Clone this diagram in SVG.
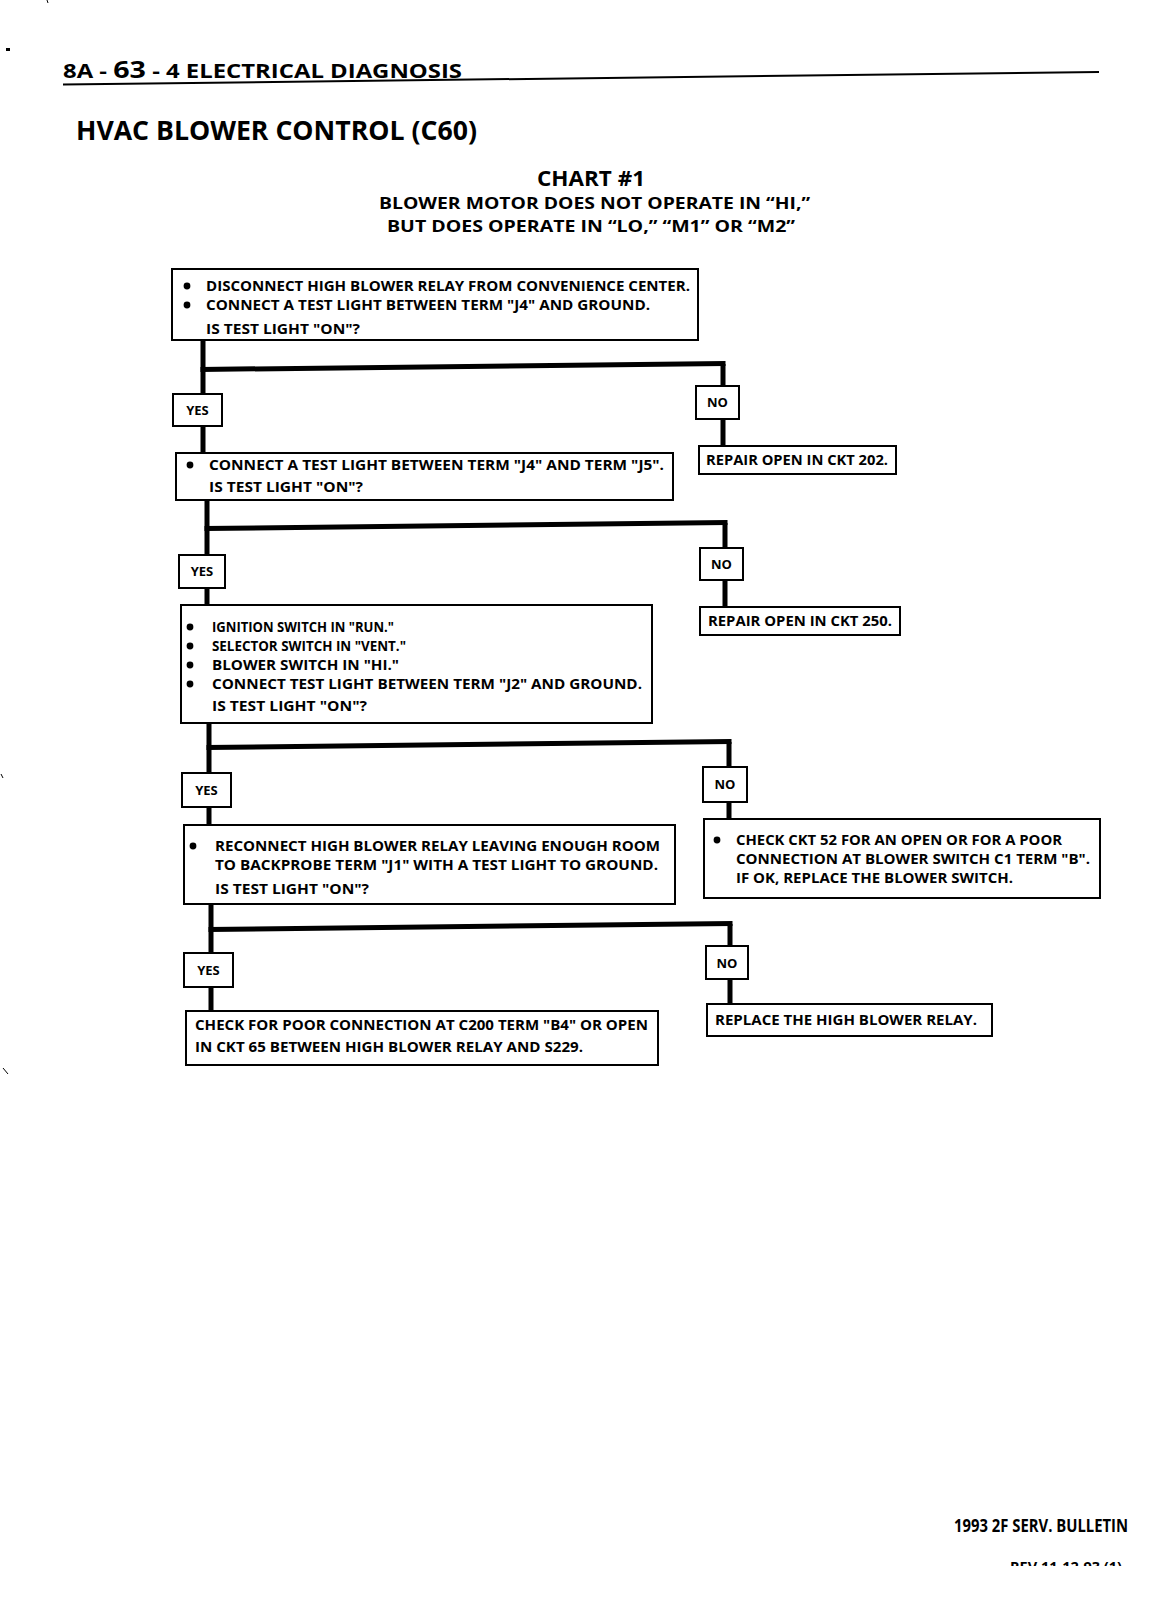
<svg xmlns="http://www.w3.org/2000/svg" width="1168" height="1600" viewBox="0 0 1168 1600">
<defs>
<style>
.bg{fill:#fff}
.box{fill:#fff;stroke:#000;stroke-width:2}
.wire{fill:none;stroke:#000;stroke-width:5;stroke-linejoin:miter;stroke-linecap:butt}
.t{font-family:"Open Sans","Liberation Sans",sans-serif;font-weight:700;font-size:14px;fill:#000}
.lbl{font-family:"Open Sans","Liberation Sans",sans-serif;font-weight:700;font-size:13px;fill:#000;text-anchor:middle}
.h{font-family:"Open Sans","Liberation Sans",sans-serif;font-weight:700;fill:#000}
.dot{fill:#000}
</style>
<clipPath id="cut"><rect x="0" y="0" width="1168" height="1566"/></clipPath>
</defs>
<rect class="bg" x="0" y="0" width="1168" height="1600"/>

<g id="header">
<text class="h" x="63" y="78" font-size="20" textLength="399" lengthAdjust="spacingAndGlyphs">8A - <tspan font-size="24">63</tspan> - 4  ELECTRICAL DIAGNOSIS</text>
<line x1="63" y1="84.5" x2="1099" y2="72" stroke="#000" stroke-width="2"/>
<text class="h" x="76" y="140" font-size="27" textLength="401" lengthAdjust="spacingAndGlyphs">HVAC BLOWER CONTROL (C60)</text>
<text class="h" x="537" y="186" font-size="22" textLength="108" lengthAdjust="spacingAndGlyphs">CHART #1</text>
<text class="h" x="379" y="209" font-size="16" textLength="431" lengthAdjust="spacingAndGlyphs">BLOWER MOTOR DOES NOT OPERATE IN “HI,”</text>
<text class="h" x="387" y="232" font-size="16" textLength="408" lengthAdjust="spacingAndGlyphs">BUT DOES OPERATE IN “LO,” “M1” OR “M2”</text>
</g>

<g id="connectors">
<path class="wire" d="M203 340 V394 M203 426 V453 M723 386 V364"/>
<path class="wire" d="M200.5 369.5 L725.5 363.5"/>
<path class="wire" d="M723 419 V446"/>
<path class="wire" d="M207 500 V555 M207 588 V605 M725 548 V523 M725 580 V607"/>
<path class="wire" d="M204.5 528.5 L727.5 522.5"/>
<path class="wire" d="M209 723 V773 M209 807 V825 M729 767 V742 M729 802 V819"/>
<path class="wire" d="M206.5 747.5 L731.5 741.5"/>
<path class="wire" d="M211 904 V953 M211 987 V1011 M730 946 V924 M730 979 V1004"/>
<path class="wire" d="M208.5 929.5 L732.5 923.5"/>
</g>

<g id="step1">
<rect class="box" x="172" y="269" width="526" height="71"/>
<circle class="dot" cx="187" cy="286" r="3.4"/>
<circle class="dot" cx="187" cy="305" r="3.4"/>
<text class="t" x="206" y="291" textLength="484" lengthAdjust="spacingAndGlyphs">DISCONNECT HIGH BLOWER RELAY FROM CONVENIENCE CENTER.</text>
<text class="t" x="206" y="310" textLength="444" lengthAdjust="spacingAndGlyphs">CONNECT A TEST LIGHT BETWEEN TERM "J4" AND GROUND.</text>
<text class="t" x="206" y="334" textLength="154" lengthAdjust="spacingAndGlyphs">IS TEST LIGHT "ON"?</text>
</g>

<g id="yes1"><rect class="box" x="173" y="394" width="49" height="32"/><text class="lbl" x="197.5" y="415">YES</text></g>
<g id="no1"><rect class="box" x="696" y="386" width="43" height="33"/><text class="lbl" x="717.5" y="407">NO</text></g>
<g id="repair202"><rect class="box" x="699" y="446" width="197" height="28"/><text class="t" x="706" y="465" textLength="182" lengthAdjust="spacingAndGlyphs">REPAIR OPEN IN CKT 202.</text></g>

<g id="step2">
<rect class="box" x="176" y="453" width="497" height="47"/>
<circle class="dot" cx="190" cy="465" r="3.4"/>
<text class="t" x="209" y="470" textLength="455" lengthAdjust="spacingAndGlyphs">CONNECT A TEST LIGHT BETWEEN TERM "J4" AND TERM "J5".</text>
<text class="t" x="209" y="492" textLength="154" lengthAdjust="spacingAndGlyphs">IS TEST LIGHT "ON"?</text>
</g>

<g id="yes2"><rect class="box" x="179" y="555" width="46" height="33"/><text class="lbl" x="202" y="576">YES</text></g>
<g id="no2"><rect class="box" x="700" y="548" width="43" height="32"/><text class="lbl" x="721.5" y="569">NO</text></g>
<g id="repair250"><rect class="box" x="700" y="607" width="200" height="28"/><text class="t" x="708" y="626" textLength="184" lengthAdjust="spacingAndGlyphs">REPAIR OPEN IN CKT 250.</text></g>

<g id="step3">
<rect class="box" x="181" y="605" width="471" height="118"/>
<circle class="dot" cx="190" cy="627" r="3.4"/>
<circle class="dot" cx="190" cy="646" r="3.4"/>
<circle class="dot" cx="190" cy="665" r="3.4"/>
<circle class="dot" cx="190" cy="684" r="3.4"/>
<text class="t" x="212" y="632" textLength="182" lengthAdjust="spacingAndGlyphs">IGNITION SWITCH IN "RUN."</text>
<text class="t" x="212" y="651" textLength="194" lengthAdjust="spacingAndGlyphs">SELECTOR SWITCH IN "VENT."</text>
<text class="t" x="212" y="670" textLength="187" lengthAdjust="spacingAndGlyphs">BLOWER SWITCH IN "HI."</text>
<text class="t" x="212" y="689" textLength="430" lengthAdjust="spacingAndGlyphs">CONNECT TEST LIGHT BETWEEN TERM "J2" AND GROUND.</text>
<text class="t" x="212" y="711" textLength="155" lengthAdjust="spacingAndGlyphs">IS TEST LIGHT "ON"?</text>
</g>

<g id="yes3"><rect class="box" x="182" y="773" width="49" height="34"/><text class="lbl" x="206.5" y="795">YES</text></g>
<g id="no3"><rect class="box" x="703" y="767" width="44" height="35"/><text class="lbl" x="725" y="789">NO</text></g>
<g id="checkckt52">
<rect class="box" x="704" y="819" width="396" height="79"/>
<circle class="dot" cx="717" cy="840" r="3.4"/>
<text class="t" x="736" y="845" textLength="326" lengthAdjust="spacingAndGlyphs">CHECK CKT 52 FOR AN OPEN OR FOR A POOR</text>
<text class="t" x="736" y="864" textLength="354" lengthAdjust="spacingAndGlyphs">CONNECTION AT BLOWER SWITCH C1 TERM "B".</text>
<text class="t" x="736" y="883" textLength="277" lengthAdjust="spacingAndGlyphs">IF OK, REPLACE THE BLOWER SWITCH.</text>
</g>

<g id="step4">
<rect class="box" x="184" y="825" width="491" height="79"/>
<circle class="dot" cx="193" cy="846" r="3.4"/>
<text class="t" x="215" y="851" textLength="445" lengthAdjust="spacingAndGlyphs">RECONNECT HIGH BLOWER RELAY LEAVING ENOUGH ROOM</text>
<text class="t" x="215" y="870" textLength="443" lengthAdjust="spacingAndGlyphs">TO BACKPROBE TERM "J1" WITH A TEST LIGHT TO GROUND.</text>
<text class="t" x="215" y="894" textLength="154" lengthAdjust="spacingAndGlyphs">IS TEST LIGHT "ON"?</text>
</g>

<g id="yes4"><rect class="box" x="184" y="953" width="49" height="34"/><text class="lbl" x="208.5" y="975">YES</text></g>
<g id="no4"><rect class="box" x="706" y="946" width="42" height="33"/><text class="lbl" x="727" y="968">NO</text></g>
<g id="checkc200">
<rect class="box" x="186" y="1011" width="472" height="54"/>
<text class="t" x="195" y="1030" textLength="453" lengthAdjust="spacingAndGlyphs">CHECK FOR POOR CONNECTION AT C200 TERM "B4" OR OPEN</text>
<text class="t" x="195" y="1052" textLength="388" lengthAdjust="spacingAndGlyphs">IN CKT 65 BETWEEN HIGH BLOWER RELAY AND S229.</text>
</g>
<g id="replacerelay"><rect class="box" x="707" y="1004" width="285" height="32"/><text class="t" x="715" y="1025" textLength="262" lengthAdjust="spacingAndGlyphs">REPLACE THE HIGH BLOWER RELAY.</text></g>

<g id="footer">
<text class="h" x="954" y="1532" font-size="17" textLength="174" lengthAdjust="spacingAndGlyphs">1993 2F SERV. BULLETIN</text>
<text class="h" x="1010" y="1572" font-size="14" textLength="112" lengthAdjust="spacingAndGlyphs" clip-path="url(#cut)">REV 11-12-93 (1)</text>
</g>

<g id="marks">
<rect x="6" y="48" width="4" height="3" fill="#000"/>
<line x1="47" y1="0" x2="48" y2="3" stroke="#000" stroke-width="1"/>
<line x1="1" y1="774" x2="3" y2="778" stroke="#000" stroke-width="1"/>
<line x1="3" y1="1068" x2="8" y2="1074" stroke="#000" stroke-width="1"/>
</g>
</svg>
